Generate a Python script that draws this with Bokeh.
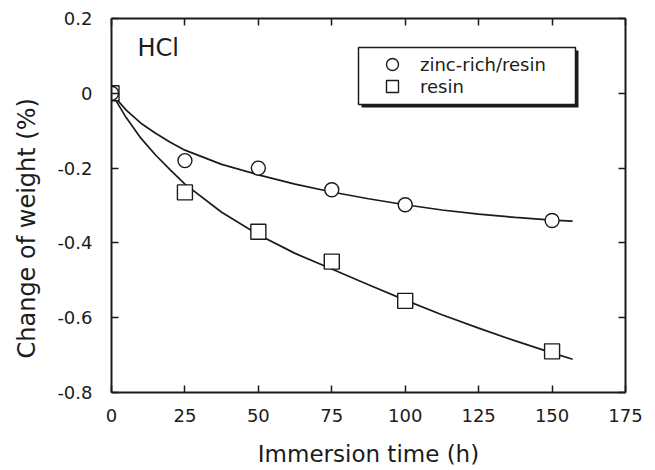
from bokeh.plotting import figure
from bokeh.models import (LinearAxis, FixedTicker, Range1d, Label, Legend,
                          LegendItem, BoxAnnotation, Title)
from bokeh.embed import file_html
from bokeh.resources import INLINE

# ---- data ----
time_h = [0, 25, 50, 75, 100, 150]
zinc_rich_resin = [0.0, -0.18, -0.20, -0.258, -0.298, -0.34]
resin = [0.0, -0.265, -0.37, -0.45, -0.555, -0.69]

fit_time_h = [0, 5, 10, 15, 20, 25, 37.5, 50, 62.5, 75, 87.5, 100, 112.5, 125, 137.5, 150, 157]
fit_zinc_rich_resin = [0, -0.045, -0.08, -0.107, -0.131, -0.152, -0.19, -0.218, -0.243, -0.264,
                       -0.282, -0.298, -0.312, -0.323, -0.332, -0.339, -0.342]
fit_resin = [0, -0.065, -0.12, -0.165, -0.205, -0.243, -0.318, -0.378, -0.428, -0.47,
             -0.512, -0.553, -0.592, -0.628, -0.662, -0.694, -0.711]

x_ticks = [0, 25, 50, 75, 100, 125, 150, 175]
y_ticks = [-0.8, -0.6, -0.4, -0.2, 0.0, 0.2]
y_tick_labels = ["-0.8", "-0.6", "-0.4", "-0.2", "0", "0.2"]

FONT = "DejaVu Sans"
INK = "#1b1b1b"

p = figure(width=655, height=470, output_backend="svg", toolbar_location=None,
           x_range=Range1d(0, 175), y_range=Range1d(-0.8, 0.2),
           min_border_left=111, min_border_right=30, min_border_top=18,
           min_border_bottom=78, x_axis_label="Immersion time (h)")
p.grid.visible = False
p.outline_line_color = None
p.background_fill_color = "white"
p.border_fill_color = "white"


def style_axis(ax):
    ax.major_tick_in = 7
    ax.major_tick_out = 0
    ax.minor_tick_line_color = None
    ax.axis_line_width = 2
    ax.axis_line_color = INK
    ax.major_tick_line_width = 1.5
    ax.major_tick_line_color = INK
    ax.major_label_text_font = FONT
    ax.major_label_text_font_size = "18px"
    ax.major_label_text_color = INK


xa = p.xaxis[0]
xa.ticker = FixedTicker(ticks=x_ticks)
style_axis(xa)
xa.major_label_standoff = 16
xa.axis_label_text_font = FONT
xa.axis_label_text_font_size = "23px"
xa.axis_label_text_font_style = "normal"
xa.axis_label_text_color = INK
xa.axis_label_standoff = 16

ya = p.yaxis[0]
ya.ticker = FixedTicker(ticks=y_ticks)
style_axis(ya)
ya.major_label_standoff = 19
ya.major_label_overrides = {t: s for t, s in zip(y_ticks, y_tick_labels)}

top = LinearAxis(ticker=FixedTicker(ticks=x_ticks))
style_axis(top)
top.major_label_overrides = {t: "" for t in x_ticks}
top.major_label_standoff = 0
p.add_layout(top, "above")

right = LinearAxis(ticker=FixedTicker(ticks=y_ticks))
style_axis(right)
right.major_label_overrides = {t: "" for t in y_ticks}
right.major_label_standoff = 0
p.add_layout(right, "right")

# y axis title, placed like the original (a little below centre)
p.add_layout(Title(text="Change of weight (%)", align="left", offset=34,
                   vertical_align="top", standoff=23, text_font=FONT,
                   text_font_size="24px", text_font_style="normal",
                   text_color=INK), "left")

# fitted curves
p.line(fit_time_h, fit_zinc_rich_resin, line_color=INK, line_width=1.7)
p.line(fit_time_h, fit_resin, line_color=INK, line_width=1.7)

# data points
r_sq = p.scatter(time_h, resin, marker="square", size=15, fill_color="white",
                 line_color=INK, line_width=1.4)
r_ci = p.scatter(time_h, zinc_rich_resin, marker="circle", size=14, fill_color="white",
                 line_color=INK, line_width=1.4)

# HCl tag
p.add_layout(Label(x=8.85, y=0.12, text="HCl", text_align="left",
                   text_baseline="alphabetic", text_font=FONT,
                   text_font_size="24px", text_color=INK))

# legend box with drop shadow (screen units, relative to the frame)
p.add_layout(BoxAnnotation(left=250, right=467, bottom=285, top=342,
                           left_units="screen", right_units="screen",
                           bottom_units="screen", top_units="screen",
                           fill_color=INK, fill_alpha=1, line_color=None))
p.add_layout(BoxAnnotation(left=247, right=464, bottom=288, top=345,
                           left_units="screen", right_units="screen",
                           bottom_units="screen", top_units="screen",
                           fill_color="white", fill_alpha=1,
                           line_color=INK, line_width=1.5, line_alpha=1))


def legend_row(label, renderer, loc):
    return Legend(items=[LegendItem(label=label, renderers=[renderer])],
                  location=loc, orientation="vertical", padding=0, margin=0,
                  spacing=0, glyph_width=30, glyph_height=30, label_height=30,
                  label_standoff=13, label_text_font=FONT,
                  label_text_font_size="18px", label_text_color=INK,
                  border_line_color=None, background_fill_alpha=0)


p.add_layout(legend_row("zinc-rich/resin", r_ci, (266, 313)), "center")
p.add_layout(legend_row("resin", r_sq, (266, 291)), "center")

open("out.html", "w").write(file_html(p, INLINE))
